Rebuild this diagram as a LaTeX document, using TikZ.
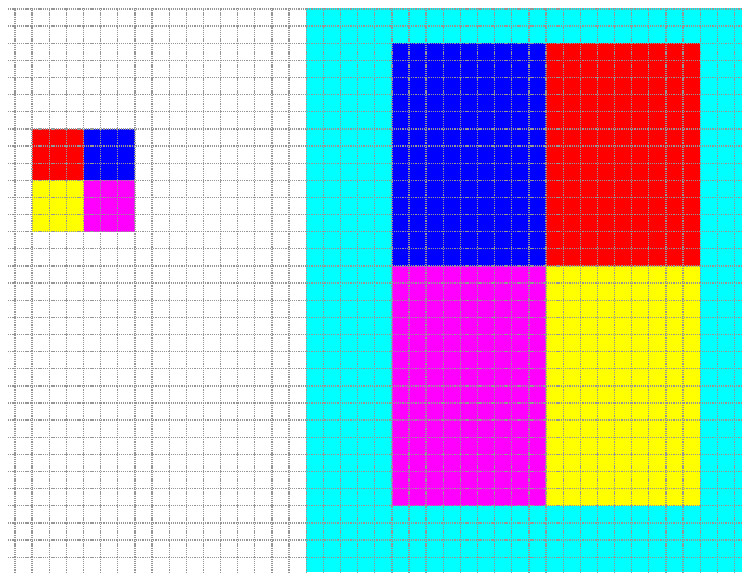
\documentclass[tikz,border=0pt]{standalone}
\definecolor{pcyan}{RGB}{0,255,255}
\definecolor{pmagenta}{RGB}{255,0,255}
\definecolor{pyellow}{RGB}{255,255,0}
\definecolor{pred}{RGB}{255,0,0}
\definecolor{pblue}{RGB}{0,0,255}
\definecolor{pgrid}{RGB}{150,150,150}
\begin{document}
\begin{tikzpicture}[
    x=0.5cm, y=-0.5cm,
    gridline/.style={pgrid, line width=1.1pt, dash pattern=on 1pt off 0.8pt},
    ]
    \useasboundingbox (-0.875,-0.525) rectangle (42.44,32.89);

    % right-hand area
    \fill[pcyan] (17,-0.06) rectangle (42.44,32.89);

    % small blocks on the left
    \foreach \x/\y/\c in {1/7/pred, 4/7/pblue, 1/10/pyellow, 4/10/pmagenta}{
    \fill[\c] (\x,\y) rectangle ++(3,3);
    }

    % large blocks on the right
    \foreach \x/\c in {22/pblue, 31/pred}{
    \fill[\c] (\x,2) rectangle ++(9,13);
    }
    \foreach \x/\c in {22/pmagenta, 31/pyellow}{
    \fill[\c] (\x,15) rectangle ++(9,14);
    }

    \foreach \x in {0,...,42}{
    \draw[gridline] (\x,-0.06) -- (\x,32.89);
    }
    \foreach \y in {0,...,32}{
    \draw[gridline] (-0.41,\y) -- (42.44,\y);
    }

\end{tikzpicture}
\end{document}
